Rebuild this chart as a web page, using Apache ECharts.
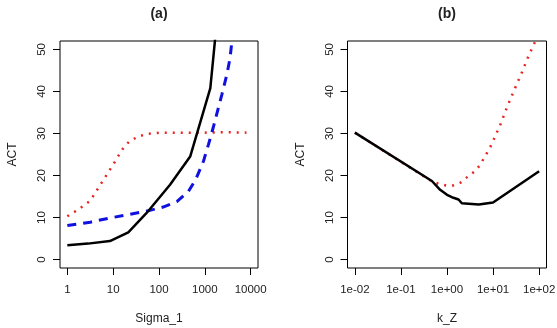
<!DOCTYPE html>
<html><head><meta charset="utf-8">
<script src="https://cdn.jsdelivr.net/npm/echarts@6/dist/echarts.min.js"></script>
<style>html,body{margin:0;padding:0;background:#fff}#c{width:557px;height:328px}</style>
</head><body><div id="c"></div><script>
// ---- Panel (a): ACT vs Sigma_1 ----
const sigmaBlack = [1, 2.82, 8.5, 21.4, 53.7, 174, 479, 1318, 3631];
const actBlack   = [3.4, 3.8, 4.4, 6.5, 11.1, 17.8, 24.5, 40.8, 90];
const sigmaBlue  = [1, 3.16, 8.5, 23.4, 63, 123, 245, 437, 631, 933, 1202, 1514, 2344, 3020, 3548, 3890, 4169];
const actBlue    = [8.1, 8.9, 9.9, 10.8, 11.7, 12.5, 13.8, 16.2, 19.0, 23.4, 27.4, 31.3, 39.2, 44.0, 47.9, 51.9, 56];
const sigmaRed   = [1, 1.78, 3.16, 5.62, 10, 15.8, 22.4, 35.5, 56.2, 100, 316, 1000, 3162, 8103];
const actRed     = [10.3, 12.0, 14.0, 18.3, 22.6, 26.2, 28.1, 29.3, 29.9, 30.2, 30.2, 30.2, 30.3, 30.2];
// ---- Panel (b): ACT vs k_Z ----
const kBlack   = [0.01, 0.47, 0.71, 1.0, 1.38, 1.78, 2.1, 4.9, 10, 100];
const actKBlack= [30.2, 18.7, 16.6, 15.4, 14.7, 14.3, 13.4, 13.1, 13.6, 21.0];
const kRed     = [0.01, 0.47, 0.71, 1.0, 1.35, 1.95, 2.8, 4.0, 5.25, 6.6, 8.3, 10, 14.5, 20, 28.2, 40.7, 56.2, 83, 100];
const actKRed  = [30.2, 18.6, 17.9, 17.6, 17.6, 18.3, 19.7, 21.0, 22.5, 24.5, 26.3, 28.2, 32.2, 36.2, 40.1, 44.1, 47.9, 52, 54];
// ---- ticks ----
const xTicksA = ['1', '10', '100', '1000', '10000'];
const xTicksB = ['1e-02', '1e-01', '1e+00', '1e+01', '1e+02'];
const yTicks  = [0, 10, 20, 30, 40, 50];

const pairs = (xs, ys) => xs.map((x, i) => [Math.log10(x), ys[i]]);
const FONT = "'Liberation Sans', Arial, sans-serif";
const TXT = '#222';

function xAxis(gi, lo, labels, name) {
  const vals = labels.map((_, i) => lo + i);
  return {
    type: 'value', gridIndex: gi, min: lo - 0.16, max: lo + 4.16, position: 'bottom',
    name: name, nameLocation: 'middle', nameGap: 45,
    nameTextStyle: { fontFamily: FONT, fontSize: 12, color: TXT },
    axisLine: { show: false, onZero: false }, splitLine: { show: false },
    axisTick: { show: true, length: 7, customValues: vals, lineStyle: { color: '#000' } },
    axisLabel: { customValues: vals, margin: 16, fontFamily: FONT, fontSize: 11.5, color: TXT,
      formatter: v => labels[Math.round(v - lo)] }
  };
}
function yAxis(gi) {
  return {
    type: 'value', gridIndex: gi, min: -2, max: 52, position: 'left',
    name: 'ACT', nameLocation: 'middle', nameGap: 41,
    nameTextStyle: { fontFamily: FONT, fontSize: 12, color: TXT },
    axisLine: { show: false, onZero: false }, splitLine: { show: false },
    axisTick: { show: true, length: 7, customValues: yTicks, lineStyle: { color: '#000' } },
    axisLabel: { customValues: yTicks, rotate: 90, margin: 12, fontFamily: FONT, fontSize: 11.5, color: TXT }
  };
}
const line = (xi, yi, data, color, width, type, z) => ({
  type: 'line', xAxisIndex: xi, yAxisIndex: yi, data: data, showSymbol: false, symbol: 'none',
  clip: true, z: z, lineStyle: { color: color, width: width, type: type, cap: 'butt' }
});

const chart = echarts.init(document.getElementById('c'), null, { renderer: 'canvas' });
chart.setOption({
  animation: false,
  backgroundColor: '#fff',
  grid: [
    { left: 60, top: 41, width: 198, height: 227, outerBoundsMode: 'none', containLabel: false, show: true, borderColor: '#000', borderWidth: 1, backgroundColor: 'transparent' },
    { left: 347.5, top: 41, width: 199, height: 227, outerBoundsMode: 'none', containLabel: false, show: true, borderColor: '#000', borderWidth: 1, backgroundColor: 'transparent' }
  ],
  xAxis: [xAxis(0, 0, xTicksA, 'Sigma_1'), xAxis(1, -2, xTicksB, 'k_Z')],
  yAxis: [yAxis(0), yAxis(1)],
  graphic: [
    { type: 'text', x: 159, y: 14, style: { text: '(a)', font: "bold 14px 'Liberation Sans', Arial", fill: TXT, textAlign: 'center', textVerticalAlign: 'middle' } },
    { type: 'text', x: 447, y: 14, style: { text: '(b)', font: "bold 14px 'Liberation Sans', Arial", fill: TXT, textAlign: 'center', textVerticalAlign: 'middle' } }
  ],
  series: [
    line(0, 0, pairs(sigmaRed, actRed), '#e8231f', 2.5, [2, 6], 2),
    line(0, 0, pairs(sigmaBlue, actBlue), '#1010e0', 3, [9, 7], 3),
    line(0, 0, pairs(sigmaBlack, actBlack), '#000', 2.5, 'solid', 4),
    line(1, 1, pairs(kRed, actKRed), '#e8231f', 2.5, [2, 6], 2),
    line(1, 1, pairs(kBlack, actKBlack), '#000', 2.5, 'solid', 4)
  ]
});
</script></body></html>
